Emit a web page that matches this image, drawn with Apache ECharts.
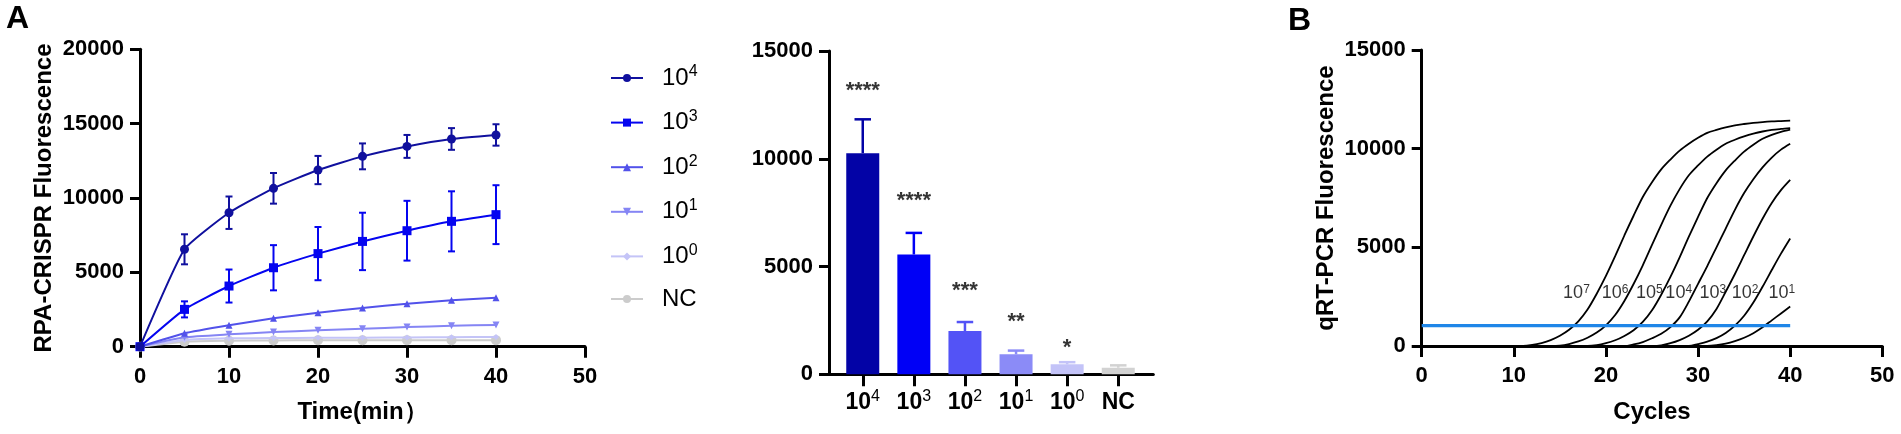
<!DOCTYPE html>
<html><head><meta charset="utf-8">
<script src="https://cdn.jsdelivr.net/npm/echarts/dist/echarts.min.js"></script>
<style>html,body{margin:0;padding:0;background:#fff}#c{width:1901px;height:434px}</style>
</head><body><div id="c"></div>
<script>
// ---------- Panel A (left): RPA-CRISPR kinetics ----------
const times = [0, 5, 10, 15, 20, 25, 30, 35, 40];
const lineNames = ['10^4', '10^3', '10^2', '10^1', '10^0', 'NC'];
const meanE4 = [0, 6550, 9010, 10650, 11880, 12800, 13470, 13970, 14240];
const errE4  = [0, 1010, 1090, 1030, 950, 870, 770, 730, 720];
const meanE3 = [0, 2510, 4080, 5310, 6260, 7080, 7800, 8430, 8880];
const errE3  = [0, 540, 1110, 1520, 1790, 1930, 2010, 2020, 1980];
const meanE2 = [0, 900, 1440, 1910, 2290, 2600, 2890, 3120, 3300];
const meanE1 = [0, 630, 830, 990, 1100, 1210, 1320, 1410, 1460];
const meanE0 = [0, 450, 560, 580, 600, 610, 620, 640, 660];
const meanNC = [0, 340, 400, 420, 430, 430, 440, 440, 440];

// ---------- Panel A (right): end-point bars ----------
const barCats  = ['10^4', '10^3', '10^2', '10^1', '10^0', 'NC'];
const barMeans = [10260, 5560, 2010, 930, 463, 305];
const barErrs  = [1570, 1000, 415, 170, 100, 110];
const barStars = ['****', '****', '***', '**', '*', ''];
const starY    = [13420, 8320, 4140, 2700, 1500, null];

// ---------- Panel B: qRT-PCR amplification ----------
const cycles = [10,11,12,13,14,15,16,17,18,19,20,21,22,23,24,25,26,27,28,29,30,31,32,33,34,35,36,37,38,39,40];
const q7 = [0,0,50,150,300,520,820,1250,1850,2650,3550,4550,5600,6600,7550,8300,8950,9450,9900,10250,10550,10800,10950,11080,11180,11250,11310,11350,11380,11400,11420];
const q6 = [0,0,0,0,0,20,100,230,420,680,1050,1570,2280,3140,4090,5120,6140,7110,7950,8650,9150,9600,9950,10250,10450,10620,10760,10870,10950,11000,11040];
const q5 = [0,0,0,0,0,0,0,0,0,40,140,290,510,800,1220,1810,2600,3500,4490,5540,6540,7500,8250,8900,9400,9850,10200,10500,10700,10850,10960];
const q4 = [0,0,0,0,0,0,0,0,0,0,0,0,0,80,200,390,620,960,1450,2250,3150,4050,5000,5950,6900,7750,8450,9050,9550,9950,10250];
const q3 = [0,0,0,0,0,0,0,0,0,0,0,0,0,0,0,0,30,140,300,520,820,1250,1880,2750,3650,4600,5550,6450,7250,7900,8420];
const q2 = [0,0,0,0,0,0,0,0,0,0,0,0,0,0,0,0,0,0,0,0,100,220,400,660,1030,1530,2200,3000,3850,4680,5450];
const q1 = [0,0,0,0,0,0,0,0,0,0,0,0,0,0,0,0,0,0,0,0,0,0,40,120,250,420,650,950,1300,1650,2000];
const qSeries = [q7, q6, q5, q4, q3, q2, q1];
const qLabels = ['10^7', '10^6', '10^5', '10^4', '10^3', '10^2', '10^1'];
const qLabelX = [16.8, 21.0, 24.7, 27.9, 31.6, 35.1, 39.1];
const qLabelY = 2670;
const thresholdValue = 1030;
const thresholdCycles = [0, 40];

// ---------- styling ----------
const FONT = 'Arial, "Liberation Sans", Helvetica, sans-serif';
const NARROW = '"Liberation Sans Narrow", "Arial Narrow", Arial, sans-serif';
const lineColors = ['#10109e', '#0505f0', '#5252ea', '#8585f4', '#c4c4f7', '#cccccc'];
const lineSymbols = ['circle', 'rect', 'triangle', 'triangle', 'diamond', 'circle'];
const lineSymbolSizes = [9, 9, 7, 7, 6, 10];
const lineSymbolRot = [0, 0, 0, 180, 0, 0];
const barColors = ['#0303a6', '#0000f6', '#5353f6', '#8b8bf7', '#c3c3f8', '#d2d2d2'];

function supText(name, n, s) {
  const p = name.split('^');
  return p.length > 1 ? '{' + n + '|' + p[0] + '}{' + s + '|' + p[1] + '}' : '{' + n + '|' + p[0] + '}';
}

function valueAxis(extra) {
  const base = {
    type: 'value',
    axisLine: { show: true, onZero: false, lineStyle: { color: '#000', width: 3 } },
    axisTick: { show: true, inside: false, length: 10, lineStyle: { color: '#000', width: 3 } },
    axisLabel: { show: true, color: '#000', fontSize: 22, fontWeight: 'bold', fontFamily: FONT, margin: 16, formatter: v => String(v) },
    splitLine: { show: false },
    nameLocation: 'middle',
    nameTextStyle: { color: '#000', fontSize: 24, fontWeight: 'bold', fontFamily: FONT }
  };
  return Object.assign(base, extra);
}

const meansA = [meanE4, meanE3, meanE2, meanE1, meanE0, meanNC];
const series = [];

meansA.forEach((arr, k) => {
  series.push({
    name: lineNames[k], type: 'line', xAxisIndex: 0, yAxisIndex: 0,
    data: times.map((t, i) => [t, arr[i]]),
    smooth: 0.15, symbol: lineSymbols[k], symbolSize: lineSymbolSizes[k], symbolRotate: lineSymbolRot[k],
    showAllSymbol: true,
    lineStyle: { color: lineColors[k], width: 2 },
    itemStyle: { color: lineColors[k] },
    z: 10 - k, silent: true, animation: false
  });
});

function errSeriesLine(mean, err, color, name) {
  return {
    name: name, type: 'custom', xAxisIndex: 0, yAxisIndex: 0, silent: true, animation: false, z: 8,
    data: times.map((t, i) => [t, mean[i] - err[i], mean[i] + err[i]]).filter(d => d[2] > d[1]),
    renderItem: (params, api) => {
      const lo = api.coord([api.value(0), api.value(1)]);
      const hi = api.coord([api.value(0), api.value(2)]);
      const w = 3.5;
      const st = { stroke: color, lineWidth: 2 };
      return { type: 'group', children: [
        { type: 'line', shape: { x1: lo[0], y1: lo[1], x2: hi[0], y2: hi[1] }, style: st },
        { type: 'line', shape: { x1: lo[0] - w, y1: lo[1], x2: lo[0] + w, y2: lo[1] }, style: st },
        { type: 'line', shape: { x1: hi[0] - w, y1: hi[1], x2: hi[0] + w, y2: hi[1] }, style: st }
      ]};
    }
  };
}
series.push(errSeriesLine(meanE4, errE4, lineColors[0], 'errE4'));
series.push(errSeriesLine(meanE3, errE3, lineColors[1], 'errE3'));

// bars
series.push({
  type: 'bar', xAxisIndex: 2, yAxisIndex: 2, barWidth: 33, silent: true, animation: false,
  data: barMeans.map((v, i) => ({ value: v, itemStyle: { color: barColors[i] } }))
});
series.push({
  type: 'custom', xAxisIndex: 2, yAxisIndex: 2, silent: true, animation: false, z: 3,
  data: barMeans.map((v, i) => [i, v, v + barErrs[i]]),
  renderItem: (params, api) => {
    const idx = api.value(0);
    const b = api.coord([idx, api.value(1)]);
    const t = api.coord([idx, api.value(2)]);
    const w = 8.25;
    const st = { stroke: barColors[idx], lineWidth: 2.5 };
    return { type: 'group', children: [
      { type: 'line', shape: { x1: b[0], y1: b[1], x2: t[0], y2: t[1] }, style: st },
      { type: 'line', shape: { x1: t[0] - w, y1: t[1], x2: t[0] + w, y2: t[1] }, style: st }
    ]};
  }
});
series.push({
  type: 'scatter', xAxisIndex: 2, yAxisIndex: 2, symbolSize: 0, silent: true, animation: false,
  data: barStars.map((s, i) => [i, starY[i]]).filter(d => d[1] != null),
  label: { show: true, position: 'inside', offset: [0, 6], formatter: p => barStars[p.data[0]],
    color: '#000', fontSize: 22, fontWeight: 'bold', fontFamily: FONT }
});

// panel B
qSeries.forEach((arr, k) => {
  series.push({
    type: 'line', xAxisIndex: 3, yAxisIndex: 3, symbol: 'none', smooth: 0.3, silent: true, animation: false,
    data: cycles.map((c, i) => [c, arr[i]]),
    lineStyle: { color: '#000', width: 1.8 }, z: 3
  });
});
series.push({
  type: 'line', xAxisIndex: 3, yAxisIndex: 3, symbol: 'none', silent: true, animation: false,
  data: thresholdCycles.map(c => [c, thresholdValue]),
  lineStyle: { color: '#1f86e8', width: 3.2 }, z: 4
});
series.push({
  type: 'scatter', xAxisIndex: 3, yAxisIndex: 3, symbolSize: 0, silent: true, animation: false,
  data: qLabels.map((l, i) => [qLabelX[i], qLabelY, l]),
  label: { show: true, position: 'inside', formatter: p => supText(p.data[2], 'n', 's'),
    rich: {
      n: { fontSize: 18, fontFamily: NARROW, color: '#000', lineHeight: 20 },
      s: { fontSize: 12, fontFamily: NARROW, color: '#000', lineHeight: 12, verticalAlign: 'top' }
    } }
});

const option = {
  backgroundColor: '#fff',
  animation: false,
  textStyle: { fontFamily: FONT },
  title: [
    { text: 'A', left: 6, top: 3, padding: 0, textStyle: { fontSize: 32, fontWeight: 'bold', color: '#000', fontFamily: FONT } },
    { text: 'B', left: 1288, top: 5, padding: 0, textStyle: { fontSize: 32, fontWeight: 'bold', color: '#000', fontFamily: FONT } }
  ],
  legend: {
    orient: 'vertical', left: 605, top: 59, itemWidth: 32, itemHeight: 10, itemGap: 18.6,
    selectedMode: false, data: lineNames,
    formatter: name => supText(name, 'n', 's'),
    textStyle: { padding: [0, 0, 0, 14], rich: {
      n: { fontSize: 24, lineHeight: 28, color: '#000', fontFamily: FONT },
      s: { fontSize: 16, lineHeight: 16, color: '#000', fontFamily: FONT, verticalAlign: 'top' }
    } }
  },
  grid: [
    { left: 140, top: 49.3, width: 445, height: 297.4, outerBoundsMode: 'none', containLabel: false },
    { left: 829, top: 51, width: 324.3, height: 323.3, outerBoundsMode: 'none', containLabel: false },
    { left: 837.2, top: 51, width: 306.6, height: 323.3, outerBoundsMode: 'none', containLabel: false },
    { left: 1421.7, top: 50, width: 460.6, height: 296, outerBoundsMode: 'none', containLabel: false }
  ],
  xAxis: [
    valueAxis({ gridIndex: 0, min: 0, max: 50, interval: 10, name: 'Time(min）', nameGap: 54,
      axisTick: { show: true, length: 11, lineStyle: { color: '#000', width: 3 } },
      axisLabel: { color: '#000', fontSize: 22, fontWeight: 'bold', fontFamily: FONT, margin: 19, formatter: v => String(v) } }),
    valueAxis({ gridIndex: 1, min: 0, max: 1, axisTick: { show: false }, axisLabel: { show: false } }),
    {
      type: 'category', gridIndex: 2, data: barCats, boundaryGap: true,
      axisLine: { show: false },
      axisTick: { show: true, alignWithLabel: true, length: 12, lineStyle: { color: '#000', width: 3 } },
      axisLabel: { show: true, margin: 14, interval: 0, formatter: v => supText(v, 'n', 's'),
        rich: {
          n: { fontSize: 23, fontWeight: 'bold', color: '#000', fontFamily: FONT, lineHeight: 28 },
          s: { fontSize: 16, color: '#000', fontFamily: FONT, lineHeight: 16, verticalAlign: 'top' }
        } },
      splitLine: { show: false }
    },
    valueAxis({ gridIndex: 3, min: 0, max: 50, interval: 10, name: 'Cycles', nameGap: 54,
      axisTick: { show: true, length: 11, lineStyle: { color: '#000', width: 3 } },
      axisLabel: { color: '#000', fontSize: 22, fontWeight: 'bold', fontFamily: FONT, margin: 19, formatter: v => String(v) } })
  ],
  yAxis: [
    valueAxis({ gridIndex: 0, min: 0, max: 20000, interval: 5000, name: 'RPA-CRISPR Fluorescence', nameGap: 84 }),
    valueAxis({ gridIndex: 1, min: 0, max: 15000, interval: 5000 }),
    { type: 'value', gridIndex: 2, min: 0, max: 15000, show: false, splitLine: { show: false } },
    valueAxis({ gridIndex: 3, min: 0, max: 15000, interval: 5000, name: 'qRT-PCR Fluorescence', nameGap: 83 })
  ],
  series: series
};

const chart = echarts.init(document.getElementById('c'));
chart.setOption(option);
</script>
</body></html>
